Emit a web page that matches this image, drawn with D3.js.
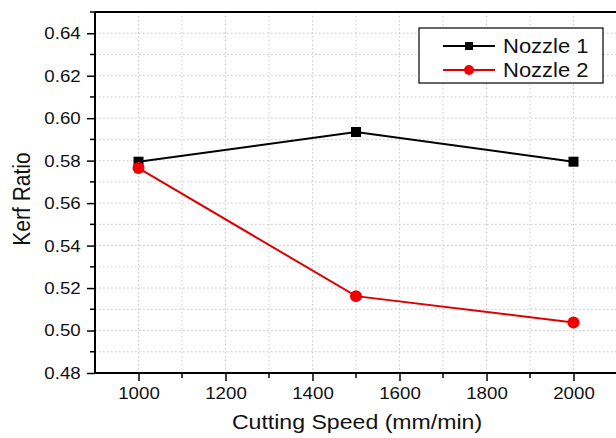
<!DOCTYPE html>
<html><head><meta charset="utf-8">
<script src="https://cdn.jsdelivr.net/npm/d3@7"></script>
<style>body{margin:0;background:#fff}svg{display:block}</style>
</head><body><svg id="c" width="616" height="438"></svg>
<script>
const speeds = [1000, 1500, 2000];
const nozzle1 = [0.5795, 0.5935, 0.5795];
const nozzle2 = [0.5765, 0.5162, 0.5038];
const seriesNames = ["Nozzle 1", "Nozzle 2"];
const xTicks = [1000, 1200, 1400, 1600, 1800, 2000];
const yTicks = [0.48, 0.50, 0.52, 0.54, 0.56, 0.58, 0.60, 0.62, 0.64];

const svg = d3.select("#c");
const L = 95, T = 12, B = 373, R = 617;
const SX = 1.1;
const x = d3.scaleLinear().domain([900, 2100]).range([L, R]);
const y = d3.scaleLinear().domain([0.48, 0.65]).range([B, T]);
const font = "Liberation Sans, Arial, sans-serif";

// grid
const xMinor = d3.range(1000, 2100, 100);
const yMinor = d3.range(0.49, 0.6501, 0.01);
const g = svg.append("g").attr("stroke", "#c8c8c8").attr("stroke-width", 1).attr("stroke-dasharray", "1.5,2.5");
g.selectAll(".gx").data(xMinor).join("line").attr("x1", d => x(d)).attr("x2", d => x(d)).attr("y1", T).attr("y2", B);
g.selectAll(".gy").data(yMinor).join("line").attr("y1", d => y(d)).attr("y2", d => y(d)).attr("x1", L).attr("x2", R);

// axes
const xAxis = d3.axisBottom(x).tickValues(xTicks).tickFormat(d3.format("d")).tickSize(8).tickPadding(6);
const xa = svg.append("g").attr("transform", `translate(0,${B})`).call(xAxis);
xa.append("g").selectAll("line").data(d3.range(1100, 2100, 200)).join("line")
  .attr("x1", d => x(d)).attr("x2", d => x(d)).attr("y1", 0).attr("y2", 5).attr("stroke", "#000").attr("stroke-width", 1.5);
const yAxis = d3.axisLeft(y).tickValues(yTicks).tickFormat(d3.format(".2f")).tickSize(8).tickPadding(5);
const ya = svg.append("g").attr("transform", `translate(${L},0)`).call(yAxis);
ya.append("g").selectAll("line").data(d3.range(0.49, 0.65, 0.02)).join("line")
  .attr("y1", d => y(d)).attr("y2", d => y(d)).attr("x1", 0).attr("x2", -5).attr("stroke", "#000").attr("stroke-width", 1.5);
[xa, ya].forEach(a => {
  a.select(".domain").attr("stroke-width", 2).attr("stroke", "#000");
  a.selectAll(".tick line").attr("stroke-width", 1.5);
  a.selectAll("text").attr("font-family", font).attr("font-size", 17).attr("fill", "#111").attr("transform", `scale(${SX},1)`);
});
ya.select(".domain").attr("d", `M0,${B}V${T}`);
xa.select(".domain").attr("d", `M${L},0H${R}`);
svg.append("line").attr("x1", L).attr("x2", R).attr("y1", T).attr("y2", T).attr("stroke", "#000").attr("stroke-width", 2);

// titles
svg.append("text").attr("transform", `translate(357,429) scale(${SX},1)`).attr("text-anchor", "middle").attr("font-family", font).attr("font-size", 21).attr("fill", "#111").text("Cutting Speed (mm/min)");
svg.append("text").attr("transform", `translate(30,199) scale(${SX},1) rotate(-90)`).attr("text-anchor", "middle").attr("font-family", font).attr("font-size", 21).attr("fill", "#111").text("Kerf Ratio");

// series
const line = d3.line().x((d, i) => x(speeds[i])).y(d => y(d));
svg.append("path").datum(nozzle1).attr("d", line).attr("fill", "none").attr("stroke", "#000").attr("stroke-width", 2);
svg.append("path").datum(nozzle2).attr("d", line).attr("fill", "none").attr("stroke", "#e00000").attr("stroke-width", 2);
svg.selectAll(".m1").data(nozzle1).join("rect").attr("x", (d, i) => x(speeds[i]) - 5).attr("y", d => y(d) - 5).attr("width", 10).attr("height", 10).attr("fill", "#000");
svg.selectAll(".m2").data(nozzle2).join("circle").attr("cx", (d, i) => x(speeds[i])).attr("cy", d => y(d)).attr("r", 6).attr("fill", "#f00000");

// legend
const lg = svg.append("g");
lg.append("rect").attr("x", 419).attr("y", 28).attr("width", 184).attr("height", 55).attr("fill", "#fff").attr("stroke", "#000").attr("stroke-width", 1.2);
const colors = ["#000", "#e00000"];
seriesNames.forEach((n, i) => {
  const yy = 46 + i * 24;
  lg.append("line").attr("x1", 443).attr("x2", 495).attr("y1", yy).attr("y2", yy).attr("stroke", colors[i]).attr("stroke-width", 2);
  if (i === 0) lg.append("rect").attr("x", 465).attr("y", yy - 4).attr("width", 8).attr("height", 8).attr("fill", "#000");
  else lg.append("circle").attr("cx", 469).attr("cy", yy).attr("r", 5).attr("fill", "#f00000");
  lg.append("text").attr("transform", `translate(503,${yy + 7}) scale(${SX},1)`).attr("font-family", font).attr("font-size", 20).attr("fill", "#111").text(n);
});
</script></body></html>
